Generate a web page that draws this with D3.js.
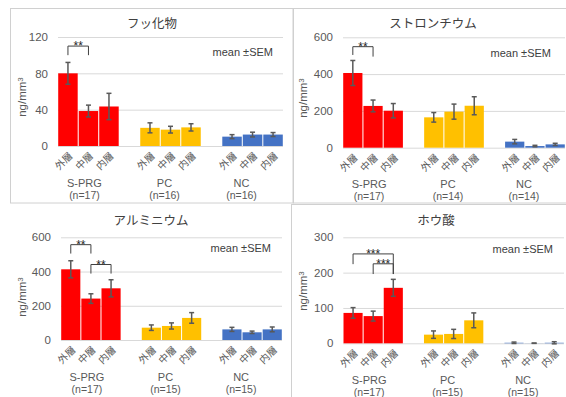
<!DOCTYPE html>
<html>
<head>
<meta charset="utf-8">
<script src="https://cdn.jsdelivr.net/npm/d3@7"></script>
<style>
  body { margin: 0; background: #fff; }
  text { font-family: "Noto Sans CJK JP", "Noto Sans", sans-serif; }
  text.latin, .latin text { font-family: "Liberation Sans", Arial, sans-serif; }
</style>
</head>
<body>
<div id="chart"></div>
<script>
// categories
const groups = ['S-PRG', 'PC', 'NC'];
const layers = ['外層', '中層', '内層'];
const groupColors = ['#FF0000', '#FFC000', '#4472C4'];

// フッ化物
const fluorideMean = [80, 38.5, 43.5, 20, 18, 20.5, 10.3, 12.6, 12.6];
const fluorideSem = [12, 6.5, 14.5, 5.5, 3.7, 4, 2.2, 2.6, 2.2];
const fluorideN = [17, 16, 16];
const fluorideTicks = [0, 40, 80, 120];

// ストロンチウム
const strontiumMean = [406, 227, 201, 165, 196, 228, 33, 9, 18];
const strontiumSem = [68, 32, 39, 26, 41, 49, 12, 4, 6];
const strontiumN = [17, 14, 14];
const strontiumTicks = [0, 200, 400, 600];

// アルミニウム
const aluminiumMean = [413, 242, 302, 72, 82, 129, 62, 45, 62];
const aluminiumSem = [50, 28, 50, 16, 18, 31, 12, 7, 14];
const aluminiumN = [17, 15, 15];
const aluminiumTicks = [0, 200, 400, 600];

// ホウ酸
const boricMean = [86, 77, 157, 24.5, 26.5, 65, 1.5, 0.3, 1.5];
const boricSem = [15, 14, 24, 10.5, 13, 21, 2, 0.5, 3];
const boricN = [17, 15, 15];
const boricTicks = [0, 100, 200, 300];

// significance brackets: [barA, barB, top, leftLegEnd, rightLegEnd, label]
const fluorideSig = [[0, 1, 110, 100, 100, '**']];
const strontiumSig = [[0, 1, 549, 504, 495, '**']];
const aluminiumSig = [[0, 1, 557, 505, 505, '**'], [1, 2, 441, 388, 388, '**']];
const boricSig = [[0, 2, 253, 224, 196, '***'], [1, 2, 225, 196, 196, '***']];

const panels = [
    { title: 'フッ化物', mean: fluorideMean, sem: fluorideSem, n: fluorideN, ticks: fluorideTicks, sig: fluorideSig,
      frame: [10.5, 8.5, 282.5, 194.5], x0: 58, x1: 283, yTop: 37, y0: 146, gy: 41,
      titleX: 152, titleY: 27.5, meanX: 273, meanY: 56, ylabX: 22, ylabY: 97 },
    { title: 'ストロンチウム', mean: strontiumMean, sem: strontiumSem, n: strontiumN, ticks: strontiumTicks, sig: strontiumSig,
      frame: [293.5, 8.5, 290, 194.5], x0: 343, x1: 565, yTop: 37.3, y0: 147.7, gy: 40.5,
      titleX: 433, titleY: 27.5, meanX: 551, meanY: 57, ylabX: 303, ylabY: 98 },
    { title: 'アルミニウム', mean: aluminiumMean, sem: aluminiumSem, n: aluminiumN, ticks: aluminiumTicks, sig: aluminiumSig,
      frame: null, x0: 61, x1: 282, yTop: 237.3, y0: 340, gy: 41,
      titleX: 151, titleY: 224.5, meanX: 271, meanY: 252, ylabX: 22, ylabY: 297 },
    { title: 'ホウ酸', mean: boricMean, sem: boricSem, n: boricN, ticks: boricTicks, sig: boricSig,
      frame: [291.5, 204.5, 290, 200], x0: 343.3, x1: 564, yTop: 237.3, y0: 343.3, gy: 40.5,
      titleX: 436, titleY: 225, meanX: 553, meanY: 252.5, ylabX: 303, ylabY: 291 }
];

const groupShift = [-4, -6, -11];

const svg = d3.select('#chart')
    .append('svg')
    .attr('width', 566)
    .attr('height', 397);

// slot index on an 11-slot band: 3 bars, a blank, 3 bars, a blank, 3 bars
const slot = i => Math.floor(i / 3) * 4 + (i % 3);

panels.forEach(p => {
    const g = svg.append('g');

    if (p.frame) {
        g.append('rect')
            .attr('x', p.frame[0]).attr('y', p.frame[1])
            .attr('width', p.frame[2]).attr('height', p.frame[3])
            .attr('fill', 'none')
            .attr('stroke', '#d0d0d0');
    }

    const x = d3.scaleBand()
        .domain(d3.range(11))
        .range([p.x0, p.x1])
        .paddingInner(0.05)
        .paddingOuter(0.01);

    const y = d3.scaleLinear()
        .domain([0, p.ticks[p.ticks.length - 1]])
        .range([p.y0, p.yTop]);

    const cx = i => x(slot(i)) + x.bandwidth() / 2;

    // gridlines + tick labels
    const axis = g.append('g')
        .attr('class', 'latin')
        .attr('transform', `translate(${p.x0},0)`)
        .call(d3.axisLeft(y).tickValues(p.ticks).tickSize(-(p.x1 - p.x0)).tickPadding(10));
    axis.select('.domain').remove();
    axis.selectAll('.tick line').attr('stroke', '#d9d9d9');
    axis.selectAll('.tick text')
        .attr('fill', '#595959')
        .style('font-size', '11.5px');

    // bars
    g.selectAll('rect.bar')
        .data(p.mean)
        .join('rect')
        .attr('class', 'bar')
        .attr('x', (d, i) => x(slot(i)))
        .attr('width', x.bandwidth())
        .attr('y', d => y(d))
        .attr('height', d => p.y0 - y(d))
        .attr('fill', (d, i) => groupColors[Math.floor(i / 3)]);

    // error bars
    const eb = g.selectAll('g.err')
        .data(p.mean)
        .join('g')
        .attr('class', 'err')
        .attr('stroke', '#595959')
        .attr('stroke-width', 1.5);
    eb.append('line')
        .attr('x1', (d, i) => cx(i)).attr('x2', (d, i) => cx(i))
        .attr('y1', (d, i) => y(d - p.sem[i])).attr('y2', (d, i) => y(d + p.sem[i]));
    eb.append('line')
        .attr('x1', (d, i) => cx(i) - 2.5).attr('x2', (d, i) => cx(i) + 2.5)
        .attr('y1', (d, i) => y(d + p.sem[i])).attr('y2', (d, i) => y(d + p.sem[i]));
    eb.append('line')
        .attr('x1', (d, i) => cx(i) - 2.5).attr('x2', (d, i) => cx(i) + 2.5)
        .attr('y1', (d, i) => y(d - p.sem[i])).attr('y2', (d, i) => y(d - p.sem[i]));

    // rotated layer labels
    g.selectAll('text.layer')
        .data(p.mean)
        .join('text')
        .attr('class', 'layer')
        .attr('transform', (d, i) => `translate(${cx(i) + 3},${p.y0 + 8}) rotate(-45)`)
        .attr('text-anchor', 'end')
        .attr('dy', '0.35em')
        .attr('fill', '#595959')
        .style('font-size', '10px')
        .text((d, i) => layers[i % 3]);

    // group labels
    groups.forEach((name, k) => {
        const gx = (x(k * 4) + x(k * 4 + 2) + x.bandwidth()) / 2 + groupShift[k];
        g.append('text')
            .attr('class', 'latin')
            .attr('x', gx).attr('y', p.y0 + p.gy)
            .attr('text-anchor', 'middle')
            .attr('fill', '#595959')
            .style('font-size', '11px')
            .text(name);
        g.append('text')
            .attr('class', 'latin')
            .attr('x', gx).attr('y', p.y0 + p.gy + 12)
            .attr('text-anchor', 'middle')
            .attr('fill', '#595959')
            .style('font-size', '10.5px')
            .text(`(n=${p.n[k]})`);
    });

    // title
    g.append('text')
        .attr('x', p.titleX).attr('y', p.titleY)
        .attr('text-anchor', 'middle')
        .attr('fill', '#404040')
        .style('font-size', '12.5px')
        .text(p.title);

    // mean ±SEM note
    g.append('text')
        .attr('class', 'latin')
        .attr('x', p.meanX).attr('y', p.meanY)
        .attr('text-anchor', 'end')
        .attr('fill', '#404040')
        .style('font-size', '11px')
        .text('mean ±SEM');

    // y label
    const yl = g.append('text')
        .attr('class', 'latin')
        .attr('transform', `translate(${p.ylabX},${p.ylabY}) rotate(-90)`)
        .attr('text-anchor', 'middle')
        .attr('dy', '0.35em')
        .attr('fill', '#595959')
        .style('font-size', '11.5px');
    yl.append('tspan').text('ng/mm');
    yl.append('tspan').attr('dy', '-0.4em').style('font-size', '8px').text('3');

    // significance brackets
    p.sig.forEach(s => {
        const xa = cx(s[0]), xb = cx(s[1]);
        g.append('path')
            .attr('d', `M${xa},${y(s[3])}V${y(s[2])}H${xb}V${y(s[4])}`)
            .attr('fill', 'none')
            .attr('stroke', '#404040')
            .attr('stroke-width', 1);
        g.append('text')
            .attr('class', 'latin')
            .attr('x', (xa + xb) / 2).attr('y', y(s[2]) + 4)
            .attr('text-anchor', 'middle')
            .attr('fill', '#262626')
            .style('font-size', '12px')
            .text(s[5]);
    });
});
</script>
</body>
</html>
